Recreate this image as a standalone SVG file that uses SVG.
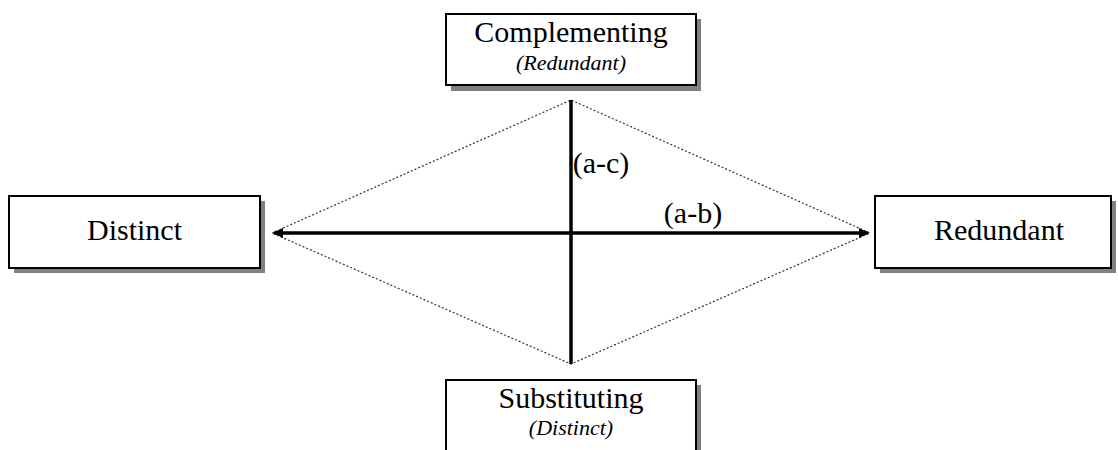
<svg xmlns="http://www.w3.org/2000/svg" width="1118" height="450" viewBox="0 0 1118 450">
<style>
.box{fill:#fff;stroke:#000;stroke-width:2}
.shadow{fill:#808080}
.t{font-family:"Liberation Serif","Times New Roman",serif;font-size:30px;fill:#000;text-anchor:middle}
.s{font-family:"Liberation Serif","Times New Roman",serif;font-size:22px;font-style:italic;fill:#000;text-anchor:middle}
.axis{stroke:#000;stroke-width:3.5;fill:none}
.dot{stroke:#333;stroke-width:1.2;stroke-dasharray:2 2;fill:none}
</style>
<defs>
<marker id="ah" viewBox="0 0 10 10" refX="9" refY="5" markerWidth="3" markerHeight="3" orient="auto-start-reverse" markerUnits="strokeWidth">
<path d="M0,0 L10,5 L0,10 z" fill="#000"/>
</marker>
</defs>
<g id="connectors">
<polygon class="dot" points="272,233 571,100 870,233 571,364"/>
<line class="axis" x1="274" y1="233" x2="868" y2="233" marker-start="url(#ah)" marker-end="url(#ah)"/>
<line class="axis" x1="571" y1="100" x2="571" y2="364"/>
<text class="t" x="601" y="173">(a-c)</text>
<text class="t" x="693" y="223">(a-b)</text>
</g>
<g id="complementing">
<rect class="shadow" x="451" y="19" width="250" height="72"/>
<rect class="box" x="446" y="14" width="250" height="71"/>
<text class="t" x="571" y="42">Complementing</text>
<text class="s" x="571" y="70">(Redundant)</text>
</g>
<g id="distinct">
<rect class="shadow" x="14" y="201" width="251" height="72"/>
<rect class="box" x="9" y="196" width="251" height="72"/>
<text class="t" x="134.5" y="240">Distinct</text>
</g>
<g id="redundant">
<rect class="shadow" x="880" y="201" width="236" height="72"/>
<rect class="box" x="875" y="196" width="236" height="72"/>
<text class="t" x="999" y="240">Redundant</text>
</g>
<g id="substituting">
<rect class="shadow" x="451" y="385" width="250" height="80"/>
<rect class="box" x="446" y="380" width="250" height="80"/>
<text class="t" x="571" y="408">Substituting</text>
<text class="s" x="571" y="435">(Distinct)</text>
</g>
</svg>
